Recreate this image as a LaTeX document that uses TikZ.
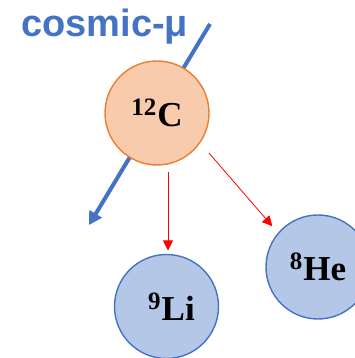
\documentclass[tikz,border=0pt]{standalone}
\usepackage{fontspec}
\setmainfont{Liberation Serif}
\newfontfamily\labelfont{Liberation Sans}
\usetikzlibrary{arrows.meta}
\definecolor{muBlue}{RGB}{68,114,196}
\definecolor{cFill}{RGB}{248,203,173}
\definecolor{cLine}{RGB}{237,125,49}
\definecolor{dFill}{RGB}{180,199,231}
\definecolor{decRed}{RGB}{255,0,0}
% isotope label: mass number as a raised smaller figure
\newcommand{\iso}[2]{\raisebox{11pt}{\fontsize{25}{25}\selectfont #1}\hspace{1pt}#2}
\tikzset{
  nucleus/.style={circle, minimum size=104pt, inner sep=0pt, outer sep=0pt,
    line width=1.4pt, font=\fontsize{35}{35}\selectfont\bfseries},
  parent/.style={nucleus, draw=cLine, fill=cFill},
  daughter/.style={nucleus, draw=muBlue, fill=dFill},
  decay/.style={decRed, line width=0.8pt, -{Triangle[length=10pt, width=10pt]}}
}
\begin{document}
\begin{tikzpicture}[x=1pt, y=1pt]
\useasboundingbox (0,0) rectangle (354,358);
% muon track, passing behind the carbon nucleus
\coordinate (mu-in) at (210,334);
\coordinate (mu-out) at (89,133);
\draw[muBlue, line width=4pt, -{Triangle[length=13pt, width=14pt]}] (mu-in) -- (mu-out);
\node[anchor=base west, text=muBlue, font=\labelfont\bfseries\fontsize{38}{38}\selectfont, inner sep=0pt]
  (mu-label) at (21,321) {cosmic-μ};
% nuclei
\node[parent] (carbon) at (157,245) {\iso{12}{C}};
\node[daughter] (lithium) at (166.5,51.5) {\hspace{10pt}\iso{9}{Li}};
\node[daughter] (helium) at (318,91) {\iso{8}{He}};
% decay products
\draw[decay] ([xshift=11pt, yshift=-7pt]carbon.south) -- ([xshift=1.5pt, yshift=4pt]lithium.north);
\draw[decay] ([yshift=-40pt]carbon.east) -- ([shift={(-9pt,4pt)}]helium.north west);
\end{tikzpicture}
\end{document}
